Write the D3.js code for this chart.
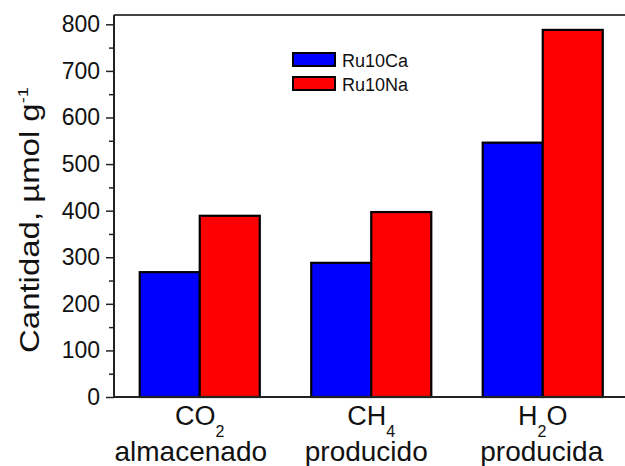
<!DOCTYPE html>
<html>
<head>
<meta charset="utf-8">
<script src="https://cdn.jsdelivr.net/npm/d3@7"></script>
<style>
body{margin:0;background:#fff;}
svg{display:block;font-family:"Liberation Sans",Arial,sans-serif;}
</style>
</head>
<body>
<svg id="chart" width="625" height="466"></svg>
<script>
// data
var categories = ["CO2", "CH4", "H2O"];
var seriesNames = ["Ru10Ca", "Ru10Na"];
var ru10Ca = [268, 288, 546];
var ru10Na = [389, 397, 788];
var seriesColors = ["#0000ff", "#ff0000"];
var yTicks = [0, 100, 200, 300, 400, 500, 600, 700, 800];
// label pieces: main, subscript, rest of formula, second line
var labelMain = ["CO", "CH", "H"];
var labelSub = ["2", "4", "2"];
var labelTail = ["", "", "O"];
var labelLine2 = ["almacenado", "producido", "producida"];

var svg = d3.select("#chart");
var pLeft = 114, pRight = 628.5, pTop = 15, pBottom = 397;

var x0 = d3.scaleBand().domain(categories).range([pLeft, pRight])
	.paddingInner(0.3).paddingOuter(0.15);
var x1 = d3.scaleBand().domain(seriesNames).range([0, x0.bandwidth()]);
var y = d3.scaleLinear().domain([0, 820]).range([pBottom, pTop]);

var values = [ru10Ca, ru10Na];

// bars
var groups = svg.selectAll("g.grp").data(categories).enter().append("g")
	.attr("class", "grp")
	.attr("transform", function(d){ return "translate(" + x0(d) + ",0)"; });

groups.selectAll("rect").data(function(d, i){
		return seriesNames.map(function(s, j){ return {s: s, v: values[j][i], c: seriesColors[j]}; });
	}).enter().append("rect")
	.attr("x", function(d){ return x1(d.s); })
	.attr("y", function(d){ return y(d.v); })
	.attr("width", x1.bandwidth())
	.attr("height", function(d){ return pBottom - y(d.v); })
	.attr("fill", function(d){ return d.c; })
	.attr("stroke", "#000")
	.attr("stroke-width", 2.2);

// frame: top line and bottom axis
svg.append("line").attr("x1", pLeft).attr("x2", pRight).attr("y1", pTop).attr("y2", pTop)
	.attr("stroke", "#444").attr("stroke-width", 2);
svg.append("line").attr("x1", pLeft).attr("x2", pRight).attr("y1", pBottom).attr("y2", pBottom)
	.attr("stroke", "#222").attr("stroke-width", 2);

var minor = d3.range(50, 800, 100);
svg.append("g").attr("transform", "translate(" + pLeft + ",0)")
	.call(d3.axisLeft(y).tickValues(minor).tickSize(5).tickFormat(""))
	.call(function(g){ g.select(".domain").remove(); g.selectAll("line").attr("stroke", "#222").attr("stroke-width", 1.5); });

var yAxis = svg.append("g").attr("transform", "translate(" + pLeft + ",0)")
	.call(d3.axisLeft(y).tickValues(yTicks).tickSize(8).tickSizeOuter(0).tickPadding(6));
yAxis.select(".domain").attr("stroke", "#222").attr("stroke-width", 2)
	.attr("d", "M0," + pBottom + "V" + pTop);
yAxis.selectAll("line").attr("stroke", "#222").attr("stroke-width", 1.5);
yAxis.selectAll("text").attr("font-size", 23).attr("fill", "#111")
	.attr("font-family", "Liberation Sans, Arial, sans-serif");

// y title
var yt = svg.append("g").attr("transform", "translate(39,220) rotate(-90) scale(1.22,1)")
	.append("text").attr("text-anchor", "middle").attr("font-size", 27).attr("fill", "#111");
yt.append("tspan").text("Cantidad, \u00b5mol g");
yt.append("tspan").attr("dy", -11).attr("font-size", 15).text("-1");

// x labels (second line sits a little left of the group centre in the original)
var line2Shift = [-9, -5, -1];
categories.forEach(function(c, i){
	var cx = x0(c) + x0.bandwidth() / 2;
	var t = svg.append("text").attr("x", cx).attr("y", 425).attr("text-anchor", "middle")
		.attr("font-size", 27).attr("fill", "#111");
	t.append("tspan").text(labelMain[i]);
	t.append("tspan").attr("dy", 12).attr("font-size", 16).text(labelSub[i]);
	if (labelTail[i]) t.append("tspan").attr("dy", -12).text(labelTail[i]);
	svg.append("text").attr("x", cx + line2Shift[i]).attr("y", 461).attr("text-anchor", "middle")
		.attr("font-size", 28).attr("fill", "#111").text(labelLine2[i]);
});

// legend
var leg = svg.append("g").attr("transform", "translate(293,53)");
var li = leg.selectAll("g").data(seriesNames).enter().append("g")
	.attr("transform", function(d, i){ return "translate(0," + (i * 24) + ")"; });
li.append("rect").attr("width", 42).attr("height", 13)
	.attr("fill", function(d, i){ return seriesColors[i]; })
	.attr("stroke", "#000").attr("stroke-width", 2);
li.append("text").attr("x", 49).attr("y", 14).attr("font-size", 18).attr("fill", "#111")
	.text(function(d){ return d; });
</script>
</body>
</html>
